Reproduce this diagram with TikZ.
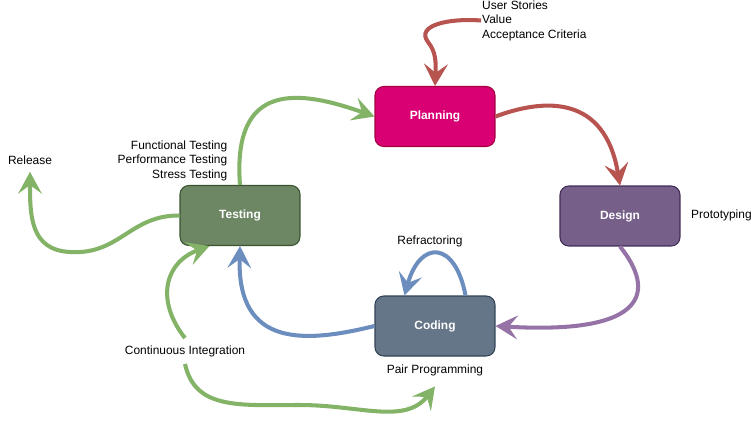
\documentclass[tikz,border=0pt]{standalone}
\usepackage{fontspec}
\setmainfont{Liberation Sans}
\usepackage{tikz}
\usetikzlibrary{arrows.meta}
\definecolor{planfill}{RGB}{216,0,115}
\definecolor{plandraw}{RGB}{165,0,64}
\definecolor{testfill}{RGB}{109,135,100}
\definecolor{testdraw}{RGB}{58,84,49}
\definecolor{designfill}{RGB}{118,96,138}
\definecolor{designdraw}{RGB}{67,45,87}
\definecolor{codefill}{RGB}{100,118,135}
\definecolor{codedraw}{RGB}{49,67,84}
\definecolor{redflow}{RGB}{184,84,80}
\definecolor{purpleflow}{RGB}{150,115,166}
\definecolor{blueflow}{RGB}{108,142,191}
\definecolor{greenflow}{RGB}{130,179,102}
\tikzset{>={Stealth[length=12.5pt,width=13.5pt,inset=5pt]}}
\tikzset{%
    phase/.style={%
        draw, line width=0.6pt, rounded corners=5pt,
        minimum width=2.4cm, minimum height=1.2cm,
        text=white, font=\fontsize{6.8pt}{8.25pt}\selectfont\bfseries},
    lbl/.style={font=\fontsize{6.8pt}{8.25pt}\selectfont, inner sep=0.5pt},
    flow/.style={->, line width=2.3pt}
}

\begin{document}
\begin{tikzpicture}[x=0.02cm,y=-0.02cm]
    \useasboundingbox (0,0) rectangle (751,420);
    \node[phase, fill=planfill, draw=plandraw] (plan) at (435,116.5) {Planning};
    \node[phase, fill=designfill, draw=designdraw] (design) at (620,216) {Design};
    \node[phase, fill=codefill, draw=codedraw] (code) at (435,326) {Coding};
    \node[phase, fill=testfill, draw=testdraw] (test) at (240,215.5) {Testing};
	\node[lbl, align=left, anchor=west] (stories) at (481,20.5) {User Stories\\Value\\Acceptance Criteria};
	\node[lbl, align=right, anchor=east] (checks) at (228.5,160.5) {Functional Testing\\Performance Testing\\Stress Testing};
	\node[lbl, inner sep=4pt] (release) at (30,160) {Release};
	\node[lbl, anchor=west] (proto) at (690,215.5) {Prototyping};
	\node[lbl] (refactor) at (430,241) {Refractoring};
	\node[lbl, inner sep=6pt] (pair) at (435,370) {Pair Programming};
	\node[lbl, inner sep=4pt] (ci) at (185,351) {Continuous Integration};
  \draw[flow,redflow] (stories.west) .. controls (450,18) and (415,25) .. (428,42) .. controls (436,52) and (436,62) .. (plan.north);
  \draw[flow,redflow] (plan.east) .. controls (545,98) and (605,95) .. (design.north);
  \draw[flow,purpleflow] (design.south) .. controls (655,290) and (650,335) .. (code.east);
  \draw[flow,blueflow] (code.west) .. controls (305,343) and (237,348) .. (test.south);
  \draw[flow,blueflow] (code.45) .. controls (455,240) and (420,240) .. (code.135);
  \draw[flow,greenflow] (test.north) .. controls (232,80) and (300,90) .. (plan.west);
  \draw[flow,greenflow] (test.west) .. controls (130,215) and (120,255) .. (70,252) .. controls (30,250) and (30,215) .. (release.south);
  \draw[flow,greenflow] (ci.north) .. controls (155,300) and (165,262) .. (test.225);
  \draw[flow,greenflow] (ci.south) .. controls (195,410) and (240,405) .. (300,405) .. controls (360,405) and (405,425) .. (pair.south);
\end{tikzpicture}
\end{document}
